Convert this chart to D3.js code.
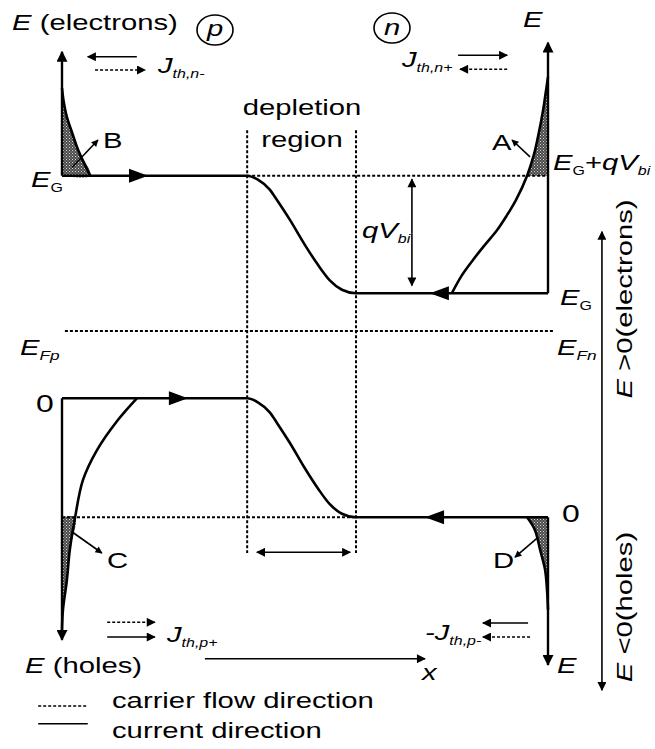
<!DOCTYPE html>
<html>
<head>
  <meta charset="utf-8" />
  <title>pn junction bands</title>
  <style>
    body { margin: 0; background: #fff; }
    text { font-family: "Liberation Sans", Arial, sans-serif; fill: #000; }
    .band { fill: none; stroke: #000; stroke-width: 2.6px; }
    .axis { fill: none; stroke: #000; stroke-width: 2.4px; }
    .dot { fill: none; stroke: #000; stroke-width: 2px; stroke-dasharray: 3 2; }
    .thin { fill: none; stroke: #000; stroke-width: 1.6px; }
    .thindash { fill: none; stroke: #000; stroke-width: 1.6px; stroke-dasharray: 3 2; }
    .hatch { stroke: none; }
  </style>
  <script src="https://cdnjs.cloudflare.com/ajax/libs/d3/7.8.5/d3.min.js"></script>
</head>
<body>
  <div id="chart"></div>
  <script>
    // energy levels, diagram units (0..100)
    var ecP = 74.9, ecN = 58.1, eF = 52.7, evP = 43.1, evN = 26.1;
    var depLeft = 38.1, depRight = 60.5;
    // band bending across the depletion region: position / fraction of qVbi
    var bendX = [38.1, 40.3, 42.8, 44.2, 46.9, 50.0, 52.7, 55.1, 57.6, 60.5];
    var bendFrac = [0, 0.034, 0.12, 0.205, 0.376, 0.59, 0.76, 0.89, 0.97, 1];
    // carrier distribution tails [position, energy]
    var tailB = [[5.8, 74.9], [3.3, 78.6], [2.1, 81], [1.0, 83.3], [0.3, 85.7], [0, 87.4]];
    var tailA = [[80.2, 58.1], [82.3, 60.7], [84.6, 62.9], [87.0, 65.0], [89.5, 67.1], [91.6, 69.3], [93.4, 71.4],
                 [95.7, 74.9], [97.1, 77.9], [98.1, 81.0], [99.0, 84.3], [99.5, 86.6], [100, 89.0]];
    var tailC = [[15.4, 43.1], [11.5, 40], [7.2, 35.7], [4.3, 31.4], [2.7, 26.1], [1.6, 21.4], [1.0, 17.1], [0.2, 12.9], [0, 10]];
    var tailD = [[95.7, 26.1], [97.3, 24.3], [98.4, 21.4], [99.4, 18.6], [99.8, 15.7], [100, 12.9]];
    // arrowheads sitting on the band lines [position, energy, direction]
    var bandHeads = [[17.7, ecP, 1], [75.7, ecN, -1], [25.9, evP, 1], [74.7, evN, -1]];

    var W = 655, H = 749, sx = 1.33;

    var x = d3.scaleLinear().domain([0, 100]).range([62, 548]);
    var y = d3.scaleLinear().domain([0, 100]).range([700, 0]);

    var svg = d3.select('#chart').append('svg')
      .attr('width', W)
      .attr('height', H);

    var defs = svg.append('defs');
    function marker(id, len, wid) {
      defs.append('marker')
        .attr('id', id)
        .attr('viewBox', '0 0 10 10')
        .attr('refX', 9).attr('refY', 5)
        .attr('markerUnits', 'userSpaceOnUse')
        .attr('markerWidth', len).attr('markerHeight', wid)
        .attr('orient', 'auto-start-reverse')
        .append('path').attr('d', 'M0,0L10,5L0,10Z').attr('fill', '#000');
    }
    marker('big', 13, 11);
    marker('mid', 12, 9);
    marker('small', 9, 7);

    var pat = defs.append('pattern')
      .attr('id', 'hatch')
      .attr('patternUnits', 'userSpaceOnUse')
      .attr('width', 3).attr('height', 3);
    pat.append('rect').attr('width', 3).attr('height', 3).attr('fill', '#4a4a4a');
    pat.append('rect').attr('width', 1).attr('height', 1).attr('fill', '#d8d8d8');
    pat.append('rect').attr('x', 1.5).attr('y', 1.5).attr('width', 1).attr('height', 1).attr('fill', '#bbb');

    var line = d3.line().x(d => x(d[0])).y(d => y(d[1]));
    var smooth = d3.line().x(d => x(d[0])).y(d => y(d[1])).curve(d3.curveCatmullRom);
    var monoX = d3.line().x(d => x(d[0])).y(d => y(d[1])).curve(d3.curveMonotoneX);

    function seg(pts, cls, m1, m2) {
      var p = svg.append('path').attr('d', line(pts)).attr('class', cls);
      if (m1) p.attr('marker-start', 'url(#' + m1 + ')');
      if (m2) p.attr('marker-end', 'url(#' + m2 + ')');
      return p;
    }

    // shaded tails
    function shade(pts) {
      svg.append('path').attr('class', 'hatch')
        .attr('d', smooth(pts) + 'Z')
        .attr('fill', 'url(#hatch)');
    }
    shade([[0, ecP]].concat(tailB));
    shade(tailA.filter(d => d[1] >= ecP).concat([[100, ecP]]));
    shade([[0, evN]].concat(tailC.filter(d => d[1] <= evN)));
    shade(tailD.concat([[100, evN]]));

    // dotted reference lines
    seg([[0.6, eF], [101.4, eF]], 'dot');
    seg([[depLeft, ecP], [100, ecP]], 'dot');
    seg([[0, evN], [depRight, evN]], 'dot');
    seg([[depLeft, 81.4], [depLeft, 21]], 'dot');
    seg([[depRight, 81.4], [depRight, 21]], 'dot');

    // band edges
    function band(hi, lo) {
      var pts = [[0, hi]];
      bendX.forEach((b, i) => pts.push([b, hi - bendFrac[i] * (hi - lo)]));
      pts.push([100, lo]);
      svg.append('path').attr('class', 'band').attr('d', monoX(pts));
    }
    band(ecP, ecN);
    band(evP, evN);

    // energy axes
    seg([[0, ecP], [0, 92.6]], 'axis', null, 'big');
    seg([[0, evP], [0, 8.6]], 'axis', null, 'big');
    seg([[100, ecN], [100, 93.9]], 'axis', null, 'big');
    seg([[100, evN], [100, 5.0]], 'axis', null, 'big');

    // distribution curves
    [tailB, tailA, tailC, tailD].forEach(t => {
      svg.append('path').attr('class', 'band').attr('d', smooth(t));
    });

    // arrowheads on the band lines
    svg.selectAll('.bhead').data(bandHeads).enter().append('path')
      .attr('class', 'bhead')
      .attr('d', 'M0,0L-19,-7L-19,7Z')
      .attr('fill', '#000')
      .attr('transform', d => 'translate(' + x(d[0]) + ',' + y(d[1]) + ') rotate(' + (d[2] > 0 ? 0 : 180) + ')');

    // flux arrows
    seg([[15.4, 91.9], [5.3, 91.9]], 'thin', null, 'mid');
    seg([[6.8, 90.0], [17.1, 90.0]], 'thindash', null, 'mid');
    seg([[81.5, 92.1], [91.6, 92.1]], 'thin', null, 'mid');
    seg([[91.6, 90.1], [81.9, 90.1]], 'thindash', null, 'mid');
    seg([[9.3, 11.1], [19.1, 11.1]], 'thindash', null, 'mid');
    seg([[9.3, 9.0], [19.1, 9.0]], 'thin', null, 'mid');
    seg([[95.9, 11.0], [86.6, 11.0]], 'thin', null, 'mid');
    seg([[96.3, 9.0], [86.6, 9.0]], 'thindash', null, 'mid');

    // pointers to the shaded areas
    seg([[2.1, 76.1], [7.4, 80.0]], 'thin', null, 'small');
    seg([[96.3, 77.6], [92.6, 80.0]], 'thin', null, 'small');
    seg([[2.1, 24.0], [8.2, 21.0]], 'thin', null, 'small');
    seg([[97.7, 23.1], [93.2, 20.4]], 'thin', null, 'small');

    // dimension arrows
    seg([[72.0, 66.6], [72.0, 74.4]], 'thin', null, 'mid');
    seg([[72.0, 66.6], [72.0, 59.2]], 'thin', null, 'mid');
    seg([[40.1, 21.1], [59.3, 21.1]], 'thin', 'mid', 'mid');
    seg([[29.4, 5.9], [74.7, 5.9]], 'thin', null, 'mid');
    seg([[111.1, 66.9], [111.1, 1.4]], 'thin', 'mid', 'mid');

    // legend
    seg([[-4.9, -0.86], [5.3, -0.86]], 'thindash');
    seg([[-4.9, -3.4], [5.3, -3.4]], 'thin');

    // text
    function label(px, py, parts, opt) {
      opt = opt || {};
      var t = svg.append('text')
        .attr('transform', 'translate(' + px + ',' + py + ')' + (opt.rot ? ' rotate(' + opt.rot + ')' : '') + ' scale(' + sx + ',1)')
        .attr('font-size', opt.size || 22)
        .attr('text-anchor', opt.anchor || 'start');
      var shift = 0;
      parts.forEach(p => {
        var s = t.append('tspan').text(p.t);
        if (p.i) s.attr('font-style', 'italic');
        if (p.sub) {
          s.attr('font-size', p.size || 13).attr('dy', 5 - shift);
          shift = 5;
        } else {
          if (p.size) s.attr('font-size', p.size);
          if (shift) { s.attr('dy', -shift); shift = 0; }
        }
      });
      return t;
    }

    label(12, 30, [{ t: 'E', i: 1 }, { t: ' (electrons)' }]);
    label(523, 27, [{ t: 'E', i: 1 }]);
    label(25, 673, [{ t: 'E', i: 1 }, { t: ' (holes)' }]);
    label(557, 673, [{ t: 'E', i: 1 }]);
    label(422, 680, [{ t: 'x', i: 1 }]);

    svg.append('ellipse').attr('cx', 215).attr('cy', 30).attr('rx', 18).attr('ry', 15).attr('class', 'thin');
    svg.append('ellipse').attr('cx', 392).attr('cy', 28).attr('rx', 18).attr('ry', 15).attr('class', 'thin');
    label(215, 36, [{ t: 'p', i: 1 }], { anchor: 'middle' });
    label(392, 35, [{ t: 'n', i: 1 }], { anchor: 'middle' });

    label(158, 73, [{ t: 'J', i: 1 }, { t: 'th,n-', i: 1, sub: 1, size: 12 }]);
    label(402, 67, [{ t: 'J', i: 1 }, { t: 'th,n+', i: 1, sub: 1, size: 12 }]);
    label(167, 642, [{ t: 'J', i: 1 }, { t: 'th,p+', i: 1, sub: 1, size: 12 }]);
    label(425, 640, [{ t: '-J', i: 1 }, { t: 'th,p-', i: 1, sub: 1, size: 12 }]);

    label(302, 115, [{ t: 'depletion' }], { anchor: 'middle' });
    label(302, 147, [{ t: 'region' }], { anchor: 'middle' });

    label(103, 148, [{ t: 'B' }]);
    label(492, 150, [{ t: 'A' }]);
    label(107, 568, [{ t: 'C' }]);
    label(493, 568, [{ t: 'D' }]);

    label(31, 187, [{ t: 'E', i: 1 }, { t: 'G', sub: 1, size: 12 }]);
    label(553, 170, [{ t: 'E', i: 1 }, { t: 'G', sub: 1, size: 12 }, { t: '+' }, { t: 'qV', i: 1 }, { t: 'bi', i: 1, sub: 1, size: 12 }]);
    label(362, 238, [{ t: 'qV', i: 1 }, { t: 'bi', i: 1, sub: 1, size: 12 }]);
    label(560, 305, [{ t: 'E', i: 1 }, { t: 'G', sub: 1, size: 12 }]);
    label(20, 355, [{ t: 'E', i: 1 }, { t: 'Fp', i: 1, sub: 1, size: 13 }]);
    label(557, 355, [{ t: 'E', i: 1 }, { t: 'Fn', i: 1, sub: 1, size: 13 }]);
    label(36, 412, [{ t: '0' }], { size: 24 });
    label(562, 522, [{ t: '0' }], { size: 24 });

    label(632, 299, [{ t: 'E', i: 1 }, { t: ' >0(electrons)' }], { rot: -90, anchor: 'middle' });
    label(632, 607, [{ t: 'E', i: 1 }, { t: ' <0(holes)' }], { rot: -90, anchor: 'middle' });

    label(112, 708, [{ t: 'carrier flow direction' }]);
    label(112, 738, [{ t: 'current direction' }]);
  </script>
</body>
</html>
